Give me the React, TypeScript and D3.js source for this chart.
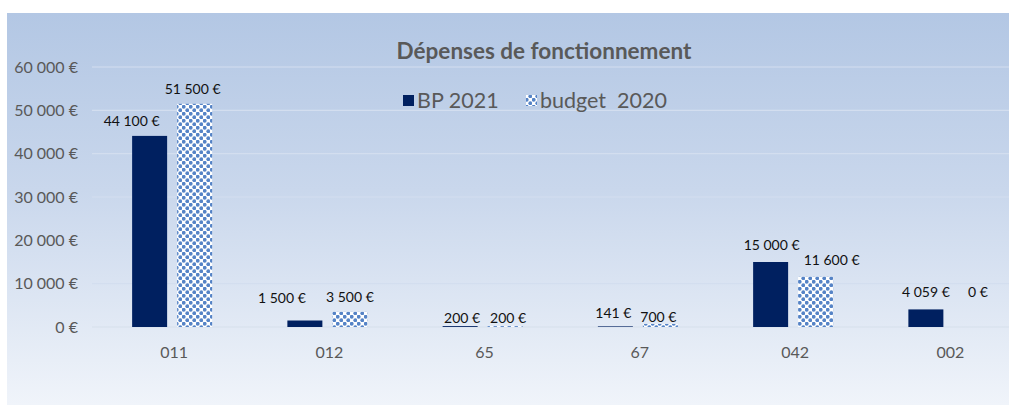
import React from "react";
import * as d3 from "d3";

const categories = ["011", "012", "65", "67", "042", "002"];
const bp2021 = [44100, 1500, 200, 141, 15000, 4059];
const budget2020 = [51500, 3500, 200, 700, 11600, 0];
const yTicks = [0, 10000, 20000, 30000, 40000, 50000, 60000];
const seriesNames = ["BP 2021", "budget  2020"];
const title = "Dépenses de fonctionnement";

// label layout nudges (dx, dy) per category, BP then budget
const bpNudge = [[-18, 0], [-23, -8], [2, 7], [-2, 2], [1, -2], [0, -2]];
const budNudge = [[-2, 0], [0, 0], [3, 7], [-2, 8], [16, -2], [7, -20]];

const W = 1009;
const H = 405;
const fmt = (v: number) => {
  const s = String(v).replace(/\B(?=(\d{3})+(?!\d))/g, "\u00a0");
  return s + "\u00a0€";
};

export default function App() {
  const x = d3.scaleBand<string>().domain(categories).range([94.5, 94.5 + 155.25 * 6]);
  const y = d3.scaleLinear().domain([0, 60000]).range([327, 67]);
  const barW = 35;
  const gap = 10;
  const font = "Lato, 'Open Sans', sans-serif";

  return (
    <svg width={W} height={H} style={{ position: "absolute", left: 0, top: 0, background: "#fff" }}>
      <defs>
        <linearGradient id="bg" x1="0" y1="0" x2="0" y2="1">
          <stop offset="0" stopColor="#b3c7e4" />
          <stop offset="0.45" stopColor="#c9d7ec" />
          <stop offset="1" stopColor="#f0f4fa" />
        </linearGradient>
        <pattern id="dots" width="7" height="7" patternUnits="userSpaceOnUse">
          <rect width="7" height="7" fill="#ffffff" />
          <circle cx="1.75" cy="1.75" r="1.9" fill="#5583c6" />
          <circle cx="5.25" cy="5.25" r="1.9" fill="#5583c6" />
        </pattern>
      </defs>
      <rect x={7} y={13} width={W - 7} height={H - 13} fill="url(#bg)" />
      {yTicks.map((t) => (
        <g key={t}>
          <line x1={92} x2={W} y1={y(t)} y2={y(t)} stroke={t === 0 ? "#d6dfec" : "#d3deef"} strokeWidth={1.2} />
          <text x={78} y={y(t) + 5.5} textAnchor="end" fontFamily={font} fontSize={16} fill="#595959">
            {fmt(t)}
          </text>
        </g>
      ))}
      {categories.map((c, i) => {
        const cx = (x(c) as number) + x.bandwidth() / 2;
        const bx = cx - gap / 2 - barW;
        const ux = cx + gap / 2;
        return (
          <g key={c}>
            <rect x={bx} y={y(bp2021[i])} width={barW} height={y(0) - y(bp2021[i])} fill="#002060" />
            <rect x={ux} y={y(budget2020[i])} width={barW} height={y(0) - y(budget2020[i])} fill="url(#dots)" />
            <text x={bx + barW / 2 + bpNudge[i][0]} y={y(bp2021[i]) - 10 + bpNudge[i][1]} textAnchor="middle" fontFamily={font} fontSize={14} fill="#111">
              {fmt(bp2021[i])}
            </text>
            <text x={ux + barW / 2 + budNudge[i][0]} y={y(budget2020[i]) - 10 + budNudge[i][1]} textAnchor="middle" fontFamily={font} fontSize={14} fill="#111">
              {fmt(budget2020[i])}
            </text>
            <text x={cx + 2} y={358} textAnchor="middle" fontFamily={font} fontSize={16} fill="#595959">
              {c}
            </text>
          </g>
        );
      })}
      <text x={544} y={59} textAnchor="middle" fontFamily={font} fontSize={22.5} fontWeight="bold" fill="#595959">
        {title}
      </text>
      <rect x={403} y={95} width={11} height={11} fill="#002060" />
      <text x={417} y={108} fontFamily={font} fontSize={21.5} fill="#595959">{seriesNames[0]}</text>
      <rect x={526} y={95} width={11} height={11} fill="url(#dots)" />
      <text x={540} y={108} fontFamily={font} fontSize={21.5} fill="#595959" style={{ whiteSpace: "pre" }}>{seriesNames[1]}</text>
    </svg>
  );
}
